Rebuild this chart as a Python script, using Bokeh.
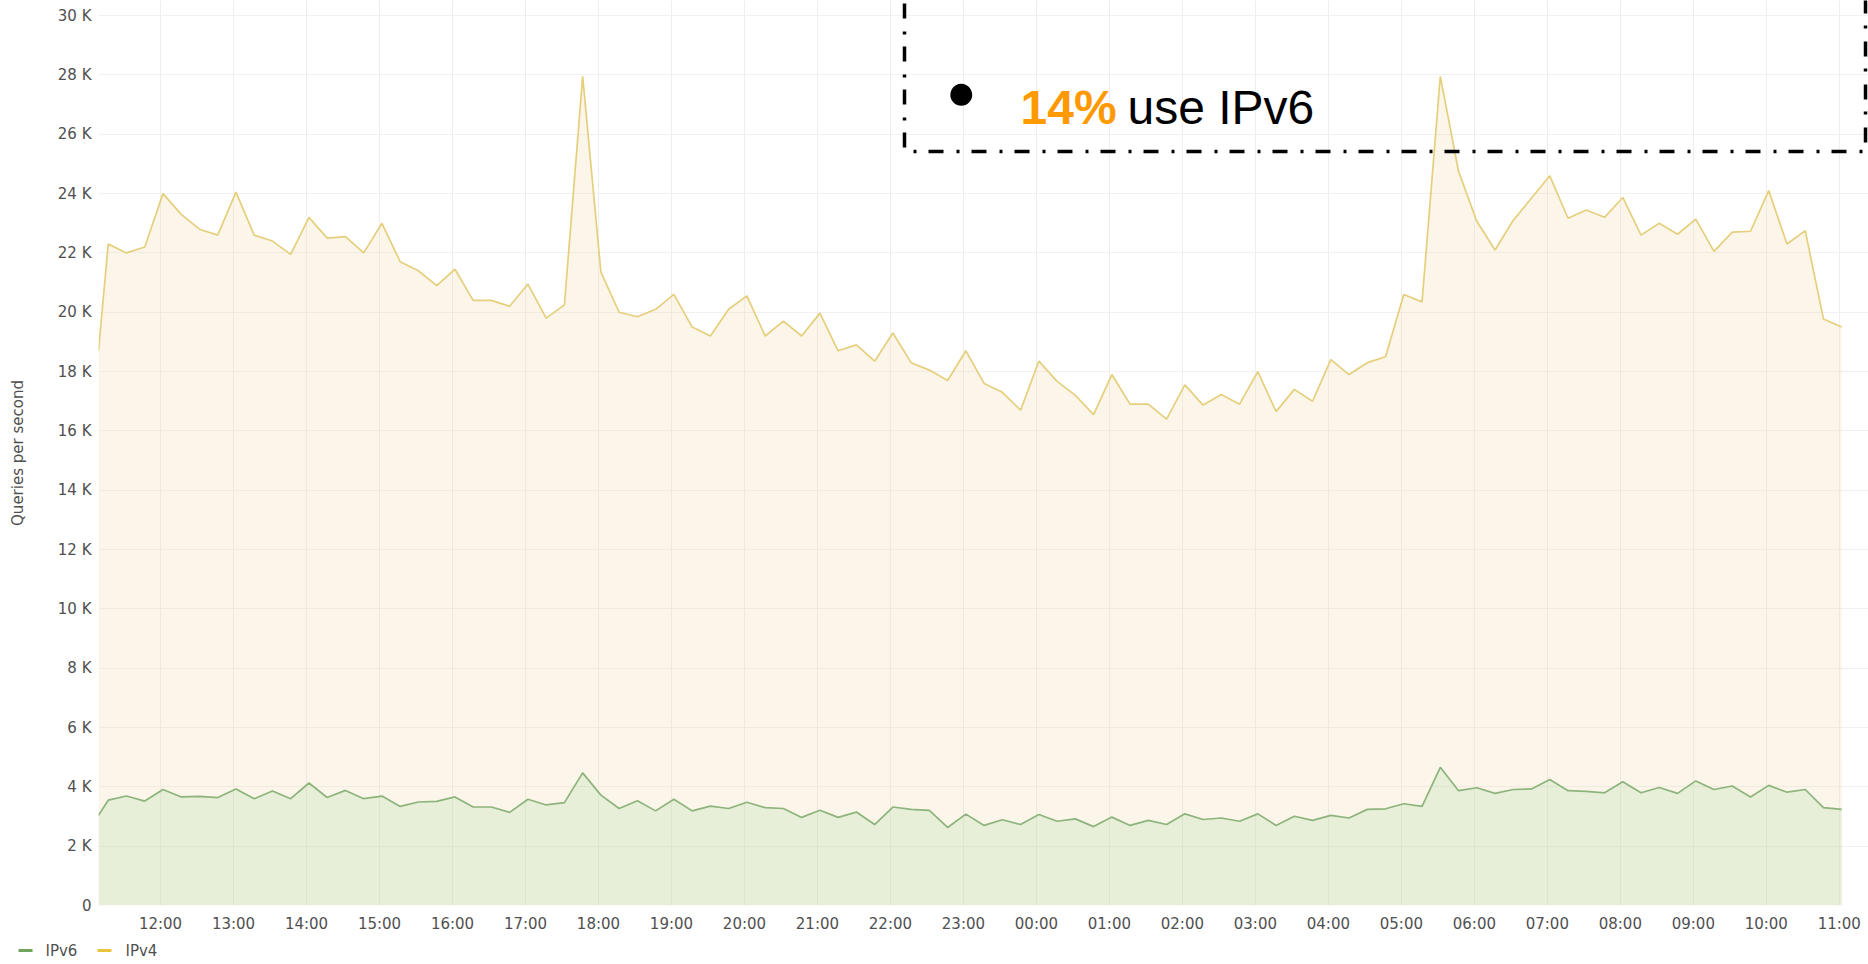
import pandas as pd
from bokeh.plotting import figure
from bokeh.layouts import column
from bokeh.core.properties import value
from bokeh.models import (Range1d, FixedTicker, Label, BoxAnnotation, ColumnDataSource)
from bokeh.embed import file_html
from bokeh.resources import INLINE

# ---------------- data (queries per second, in thousands) ----------------
ipv4_k = [18.7, 22.3, 22.0, 22.2, 24.0, 23.3, 22.8, 22.6, 24.05, 22.6,
          22.4, 21.95, 23.2, 22.5, 22.55, 22.0, 23.0, 21.7, 21.4, 20.9,
          21.45, 20.4, 20.4, 20.2, 20.95, 19.8, 20.25, 27.95, 21.35, 20.0,
          19.85, 20.1, 20.6, 19.5, 19.2, 20.1, 20.55, 19.2, 19.7, 19.2,
          19.97, 18.7, 18.9, 18.35, 19.3, 18.3, 18.05, 17.7, 18.7, 17.6,
          17.3, 16.7, 18.35, 17.67, 17.2, 16.55, 17.9, 16.9, 16.9, 16.4,
          17.55, 16.87, 17.23, 16.9, 18.0, 16.65, 17.4, 17.0, 18.4, 17.9,
          18.3, 18.5, 20.6, 20.35, 27.95, 24.75, 23.07, 22.1, 23.1, 23.85,
          24.6, 23.17, 23.45, 23.2, 23.87, 22.6, 23.0, 22.63, 23.14, 22.05,
          22.7, 22.73, 24.1, 22.3, 22.75, 19.77, 19.5]
ipv6_k = [3.04, 3.55, 3.69, 3.52, 3.91, 3.66, 3.68, 3.64, 3.93, 3.6,
          3.86, 3.6, 4.13, 3.64, 3.88, 3.6, 3.69, 3.34, 3.49, 3.51,
          3.66, 3.32, 3.32, 3.14, 3.58, 3.39, 3.47, 4.47, 3.72, 3.27,
          3.53, 3.19, 3.58, 3.19, 3.35, 3.27, 3.48, 3.3, 3.27, 2.97,
          3.21, 2.97, 3.15, 2.73, 3.32, 3.24, 3.21, 2.63, 3.08, 2.7,
          2.89, 2.73, 3.07, 2.84, 2.92, 2.66, 2.98, 2.7, 2.87, 2.73,
          3.09, 2.9, 2.95, 2.84, 3.09, 2.7, 3.01, 2.87, 3.04, 2.95,
          3.24, 3.26, 3.43, 3.34, 4.66, 3.87, 3.97, 3.78, 3.91, 3.93,
          4.25, 3.87, 3.85, 3.8, 4.17, 3.8, 3.98, 3.78, 4.2, 3.91,
          4.03, 3.66, 4.05, 3.82, 3.91, 3.3, 3.24]
window_start = "2024-01-01 11:09"      # first sample / left edge of the window
regular_start = "2024-01-01 11:17"     # following samples every 15 minutes
sample_step = "15min"
window_minutes = 1455
first_hour_tick = "2024-01-01 12:00"
hour_labels = ["12:00", "13:00", "14:00", "15:00", "16:00", "17:00", "18:00",
               "19:00", "20:00", "21:00", "22:00", "23:00", "00:00", "01:00",
               "02:00", "03:00", "04:00", "05:00", "06:00", "07:00", "08:00",
               "09:00", "10:00", "11:00"]
y_tick_values = [0, 2, 4, 6, 8, 10, 12, 14, 16, 18, 20, 22, 24, 26, 28, 30]
y_tick_labels = ["0", "2 K", "4 K", "6 K", "8 K", "10 K", "12 K", "14 K",
                 "16 K", "18 K", "20 K", "22 K", "24 K", "26 K", "28 K", "30 K"]
y_top = 30.51
series_names = ["IPv6", "IPv4"]
series_swatch_colors = ["#6FA65C", "#E9C53E"]
note_bullet = "●"
note_pct = "14%"
note_rest = "use IPv6"

# ---------------- build ----------------
t0 = pd.Timestamp(window_start)
times = [t0] + list(pd.date_range(regular_start, periods=len(ipv4_k) - 1, freq=sample_step))
t_end = t0 + pd.Timedelta(minutes=window_minutes)

def ms(ts):
    return ts.value / 1e6

src = ColumnDataSource(dict(t=times, v4=ipv4_k, v6=ipv6_k))

W = 1868
H_MAIN, H_LEG = 935, 29
FL, FR, FT, FB = 98, 1868, 0, 905   # plot frame, in page pixels
p = figure(width=W, height=H_MAIN, x_axis_type="datetime",
           x_range=Range1d(t0, t_end), y_range=Range1d(0, y_top),
           output_backend="svg", toolbar_location=None,
           min_border_left=FL, min_border_right=W - FR, min_border_top=FT,
           min_border_bottom=H_MAIN - FB, frame_align=False)
p.outline_line_color = None
p.background_fill_color = "white"
p.border_fill_color = "white"

GREEN = "#8DB47C"
YELLOW = "#E6CF7C"
TXT = "#505050"
FONT = "DejaVu Sans"

p.varea(x="t", y1=0, y2="v4", source=src, fill_color="#F2D9A6", fill_alpha=0.25)
p.line("t", "v4", source=src, line_color=YELLOW, line_width=1.7)
p.varea(x="t", y1=0, y2="v6", source=src, fill_color="#98D799", fill_alpha=0.2)
p.line("t", "v6", source=src, line_color=GREEN, line_width=1.7)

# axes
hour_ticks = [ms(pd.Timestamp(first_hour_tick) + pd.Timedelta(hours=i)) for i in range(len(hour_labels))]
p.xaxis.ticker = FixedTicker(ticks=hour_ticks)
p.xaxis.major_label_overrides = {t: lab for t, lab in zip(hour_ticks, hour_labels)}
p.yaxis.ticker = FixedTicker(ticks=y_tick_values)
p.yaxis.major_label_overrides = {v: lab for v, lab in zip(y_tick_values, y_tick_labels)}
for ax in (p.xaxis[0], p.yaxis[0]):
    ax.axis_line_color = None
    ax.major_tick_line_color = None
    ax.minor_tick_line_color = None
    ax.major_tick_out = 0
    ax.major_tick_in = 0
    ax.minor_tick_out = 0
    ax.major_label_text_font = FONT
    ax.major_label_text_font_size = "15px"
    ax.major_label_text_color = TXT
p.xaxis.major_label_standoff = 9
p.yaxis.major_label_standoff = 7
p.yaxis.axis_label = "Queries per second"
p.yaxis.axis_label_text_font = FONT
p.yaxis.axis_label_text_font_size = "15px"
p.yaxis.axis_label_text_font_style = "normal"
p.yaxis.axis_label_text_color = TXT
p.yaxis.axis_label_standoff = 28
p.xgrid.grid_line_color = "#EEEEEE"
p.ygrid.grid_line_color = "#F1F1F1"

# annotation placement helpers (page pixels -> data)
def px_x(sx):
    return ms(t0) + (sx - FL) / (FR - FL) * window_minutes * 60000
def px_y(sy):
    return (FB - sy) / (FB - FT) * y_top

box = BoxAnnotation(left=px_x(904), right=px_x(1865), bottom=px_y(151), top=px_y(-30),
                    fill_color=None, fill_alpha=0, line_color="black", line_alpha=1.0,
                    line_width=3.5, line_dash="15 12 3 13")
p.add_layout(box)

p.add_layout(Label(x=px_x(961), y=px_y(91), text=note_bullet, text_font="Liberation Sans",
                   text_font_size="51px", text_color="black",
                   text_align="center", text_baseline="middle"))
p.add_layout(Label(x=px_x(1020), y=px_y(107), text=note_pct, text_font="Liberation Sans",
                   text_font_size="48px", text_font_style="bold", text_color="#FF9900",
                   text_align="left", text_baseline="alphabetic"))
p.add_layout(Label(x=px_x(1127), y=px_y(107), text=note_rest, text_font="Liberation Sans",
                   text_font_size="48px", text_color="black",
                   text_align="left", text_baseline="alphabetic"))

# legend strip under the chart: pixel-based ranges, line swatch + label per series
pl = figure(width=W, height=H_LEG, x_range=Range1d(0, W), y_range=Range1d(H_LEG, 0),
            x_axis_location=None, y_axis_location=None,
            output_backend="svg", toolbar_location=None,
            min_border_left=0, min_border_right=0, min_border_top=0, min_border_bottom=0,
            frame_align=False)
pl.outline_line_color = None
pl.xgrid.visible = False
pl.ygrid.visible = False
pl.background_fill_color = "white"
pl.border_fill_color = "white"
swatch_left = [18, 97]          # legend item positions (px)
label_left = [45, 125]
row_mid = 15
leg_src = ColumnDataSource(dict(
    x0=swatch_left, x1=[x + 14 for x in swatch_left], y=[row_mid] * 2,
    lx=label_left, name=series_names, color=series_swatch_colors))
pl.segment(x0="x0", y0="y", x1="x1", y1="y", source=leg_src,
           line_color="color", line_width=3)
pl.text(x="lx", y="y", text="name", source=leg_src,
        text_font=value(FONT), text_font_size=value("15px"),
        text_color=TXT, text_baseline="middle", text_align="left")

layout = column(p, pl, spacing=0)
open("out.html", "w").write(file_html(layout, INLINE))
